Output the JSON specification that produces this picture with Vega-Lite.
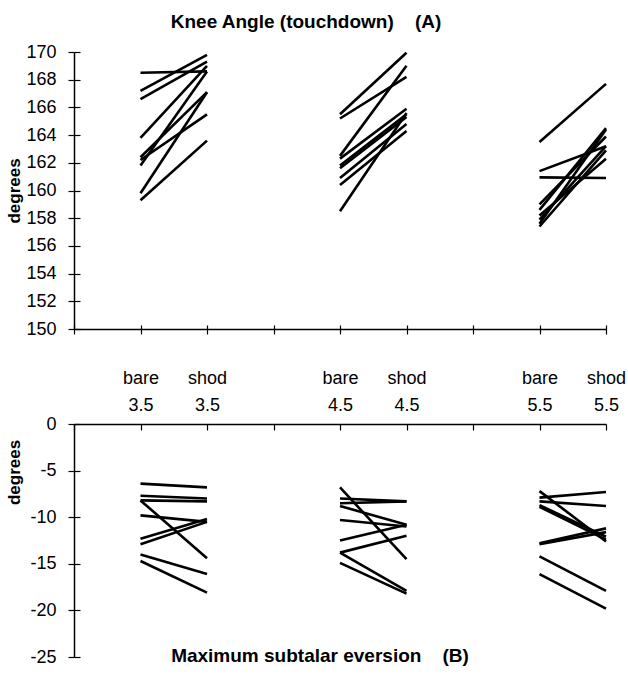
{
  "$schema": "https://vega.github.io/schema/vega-lite/v6.json",
  "padding": {"left": 5, "top": 13, "right": 0, "bottom": 0},
  "background": "white",
  "bounds": "flush",
  "spacing": 95,
  "config": {
    "font": "Liberation Sans",
    "view": {"stroke": null},
    "axis": {"domainColor": "black", "tickColor": "black", "labelColor": "black", "titleColor": "black", "labelFont": "Liberation Sans", "titleFont": "Liberation Sans", "labelFontSize": 18, "grid": false, "domainWidth": 1.5, "tickWidth": 1.2},
    "title": {"font": "Liberation Sans", "fontSize": 19, "fontWeight": "bold", "color": "black"}
  },
  "datasets": {
    "knee": [
      {"c": "bare 3.5", "id": "a1", "v": 168.5}, {"c": "shod 3.5", "id": "a1", "v": 168.6},
      {"c": "bare 3.5", "id": "a2", "v": 167.2}, {"c": "shod 3.5", "id": "a2", "v": 169.8},
      {"c": "bare 3.5", "id": "a3", "v": 166.6}, {"c": "shod 3.5", "id": "a3", "v": 169.3},
      {"c": "bare 3.5", "id": "a4", "v": 163.8}, {"c": "shod 3.5", "id": "a4", "v": 169.0},
      {"c": "bare 3.5", "id": "a5", "v": 162.4}, {"c": "shod 3.5", "id": "a5", "v": 167.1},
      {"c": "bare 3.5", "id": "a6", "v": 162.2}, {"c": "shod 3.5", "id": "a6", "v": 165.5},
      {"c": "bare 3.5", "id": "a7", "v": 161.8}, {"c": "shod 3.5", "id": "a7", "v": 168.6},
      {"c": "bare 3.5", "id": "a8", "v": 159.8}, {"c": "shod 3.5", "id": "a8", "v": 167.1},
      {"c": "bare 3.5", "id": "a9", "v": 159.3}, {"c": "shod 3.5", "id": "a9", "v": 163.6},
      {"c": "bare 4.5", "id": "b1", "v": 165.5}, {"c": "shod 4.5", "id": "b1", "v": 169.95},
      {"c": "bare 4.5", "id": "b2", "v": 165.2}, {"c": "shod 4.5", "id": "b2", "v": 168.2},
      {"c": "bare 4.5", "id": "b3", "v": 162.5}, {"c": "shod 4.5", "id": "b3", "v": 169.0},
      {"c": "bare 4.5", "id": "b4", "v": 162.3}, {"c": "shod 4.5", "id": "b4", "v": 165.9},
      {"c": "bare 4.5", "id": "b5", "v": 161.8}, {"c": "shod 4.5", "id": "b5", "v": 165.5},
      {"c": "bare 4.5", "id": "b6", "v": 161.6}, {"c": "shod 4.5", "id": "b6", "v": 165.3},
      {"c": "bare 4.5", "id": "b7", "v": 160.9}, {"c": "shod 4.5", "id": "b7", "v": 164.8},
      {"c": "bare 4.5", "id": "b8", "v": 160.4}, {"c": "shod 4.5", "id": "b8", "v": 164.3},
      {"c": "bare 4.5", "id": "b9", "v": 158.5}, {"c": "shod 4.5", "id": "b9", "v": 165.6},
      {"c": "bare 5.5", "id": "c1", "v": 163.5}, {"c": "shod 5.5", "id": "c1", "v": 167.7},
      {"c": "bare 5.5", "id": "c2", "v": 161.4}, {"c": "shod 5.5", "id": "c2", "v": 163.2},
      {"c": "bare 5.5", "id": "c3", "v": 160.95}, {"c": "shod 5.5", "id": "c3", "v": 160.9},
      {"c": "bare 5.5", "id": "c4", "v": 159.0}, {"c": "shod 5.5", "id": "c4", "v": 163.9},
      {"c": "bare 5.5", "id": "c5", "v": 158.6}, {"c": "shod 5.5", "id": "c5", "v": 164.5},
      {"c": "bare 5.5", "id": "c6", "v": 158.2}, {"c": "shod 5.5", "id": "c6", "v": 162.3},
      {"c": "bare 5.5", "id": "c7", "v": 157.9}, {"c": "shod 5.5", "id": "c7", "v": 163.2},
      {"c": "bare 5.5", "id": "c8", "v": 157.6}, {"c": "shod 5.5", "id": "c8", "v": 164.4},
      {"c": "bare 5.5", "id": "c9", "v": 157.4}, {"c": "shod 5.5", "id": "c9", "v": 162.9}
    ],
    "ever": [
      {"c": "bare 3.5", "id": "a1", "v": -6.4}, {"c": "shod 3.5", "id": "a1", "v": -6.8},
      {"c": "bare 3.5", "id": "a2", "v": -7.7}, {"c": "shod 3.5", "id": "a2", "v": -8.0},
      {"c": "bare 3.5", "id": "a3", "v": -8.2}, {"c": "shod 3.5", "id": "a3", "v": -8.3},
      {"c": "bare 3.5", "id": "a4", "v": -8.2}, {"c": "shod 3.5", "id": "a4", "v": -14.4},
      {"c": "bare 3.5", "id": "a5", "v": -9.8}, {"c": "shod 3.5", "id": "a5", "v": -10.5},
      {"c": "bare 3.5", "id": "a6", "v": -12.3}, {"c": "shod 3.5", "id": "a6", "v": -10.2},
      {"c": "bare 3.5", "id": "a7", "v": -12.9}, {"c": "shod 3.5", "id": "a7", "v": -10.5},
      {"c": "bare 3.5", "id": "a8", "v": -14.0}, {"c": "shod 3.5", "id": "a8", "v": -16.1},
      {"c": "bare 3.5", "id": "a9", "v": -14.7}, {"c": "shod 3.5", "id": "a9", "v": -18.1},
      {"c": "bare 4.5", "id": "b1", "v": -6.8}, {"c": "shod 4.5", "id": "b1", "v": -14.5},
      {"c": "bare 4.5", "id": "b2", "v": -8.0}, {"c": "shod 4.5", "id": "b2", "v": -8.3},
      {"c": "bare 4.5", "id": "b3", "v": -8.5}, {"c": "shod 4.5", "id": "b3", "v": -8.3},
      {"c": "bare 4.5", "id": "b4", "v": -8.8}, {"c": "shod 4.5", "id": "b4", "v": -10.8},
      {"c": "bare 4.5", "id": "b5", "v": -10.3}, {"c": "shod 4.5", "id": "b5", "v": -11.0},
      {"c": "bare 4.5", "id": "b6", "v": -12.5}, {"c": "shod 4.5", "id": "b6", "v": -10.8},
      {"c": "bare 4.5", "id": "b7", "v": -13.8}, {"c": "shod 4.5", "id": "b7", "v": -12.0},
      {"c": "bare 4.5", "id": "b8", "v": -13.8}, {"c": "shod 4.5", "id": "b8", "v": -17.9},
      {"c": "bare 4.5", "id": "b9", "v": -14.9}, {"c": "shod 4.5", "id": "b9", "v": -18.2},
      {"c": "bare 5.5", "id": "c1", "v": -7.2}, {"c": "shod 5.5", "id": "c1", "v": -12.6},
      {"c": "bare 5.5", "id": "c2", "v": -7.9}, {"c": "shod 5.5", "id": "c2", "v": -7.3},
      {"c": "bare 5.5", "id": "c3", "v": -8.3}, {"c": "shod 5.5", "id": "c3", "v": -8.8},
      {"c": "bare 5.5", "id": "c4", "v": -8.7}, {"c": "shod 5.5", "id": "c4", "v": -12.1},
      {"c": "bare 5.5", "id": "c5", "v": -8.9}, {"c": "shod 5.5", "id": "c5", "v": -12.4},
      {"c": "bare 5.5", "id": "c6", "v": -12.8}, {"c": "shod 5.5", "id": "c6", "v": -11.2},
      {"c": "bare 5.5", "id": "c7", "v": -12.9}, {"c": "shod 5.5", "id": "c7", "v": -11.6},
      {"c": "bare 5.5", "id": "c8", "v": -14.2}, {"c": "shod 5.5", "id": "c8", "v": -17.9},
      {"c": "bare 5.5", "id": "c9", "v": -16.1}, {"c": "shod 5.5", "id": "c9", "v": -19.8}
    ]
  },
  "vconcat": [
    {
      "width": 532,
      "height": 277,
      "title": {"text": "Knee Angle (touchdown)\u00a0\u00a0\u00a0\u00a0(A)", "anchor": "middle", "dx": -34, "offset": 2, "frame": "group", "baseline": "middle"},
      "data": {"name": "knee"},
      "layer": [
        {
          "mark": {"type": "line", "color": "black", "strokeWidth": 2.6},
          "encoding": {
            "x": {"field": "c", "type": "ordinal",
                  "scale": {"type": "point", "padding": 0, "domain": ["g0", "bare 3.5", "shod 3.5", "g1", "bare 4.5", "shod 4.5", "g2", "bare 5.5", "shod 5.5"]},
                  "axis": {"orient": "bottom", "labels": false, "title": null, "tickSize": 5}},
            "y": {"field": "v", "type": "quantitative",
                  "scale": {"domain": [150, 170], "nice": false, "zero": false},
                  "axis": {"values": [150, 152, 154, 156, 158, 160, 162, 164, 166, 168, 170], "title": "degrees", "titleFontSize": 17, "titleFontWeight": "bold", "titleX": -60, "titleBaseline": "middle", "tickSize": 6, "labelPadding": 12}},
            "detail": {"field": "id"}
          }
        },
        {
          "mark": {"type": "line", "color": "black", "strokeOpacity": 0},
          "encoding": {
            "x": {"field": "c", "type": "ordinal",
                  "axis": {"orient": "bottom", "labels": false, "domain": false, "title": null, "tickSize": -4}},
            "y": {"field": "v", "type": "quantitative",
                  "axis": {"orient": "left", "values": [150, 152, 154, 156, 158, 160, 162, 164, 166, 168, 170], "labels": false, "domain": false, "title": null, "tickSize": -6}},
            "detail": {"field": "id"}
          }
        }
      ],
      "resolve": {"axis": {"x": "independent", "y": "independent"}}
    },
    {
      "width": 532,
      "height": 233,
      "title": {"text": "Maximum subtalar eversion\u00a0\u00a0\u00a0\u00a0(B)", "orient": "bottom", "anchor": "middle", "dx": -20, "offset": -10, "frame": "group", "baseline": "middle"},
      "data": {"name": "ever"},
      "layer": [
        {
          "mark": {"type": "line", "color": "black", "strokeWidth": 2.6},
          "encoding": {
            "x": {"field": "c", "type": "ordinal",
                  "scale": {"type": "point", "padding": 0, "domain": ["g0", "bare 3.5", "shod 3.5", "g1", "bare 4.5", "shod 4.5", "g2", "bare 5.5", "shod 5.5"]},
                  "axis": {"orient": "top", "title": null, "tickSize": -6, "labelPadding": 43, "labelAngle": 0, "labelOverlap": false, "labelLineHeight": 27, "labelExpr": "length(datum.label) > 3 ? split(datum.label, ' ') : ''"}},
            "y": {"field": "v", "type": "quantitative",
                  "scale": {"domain": [-25, 0], "nice": false, "zero": false},
                  "axis": {"values": [-25, -20, -15, -10, -5, 0], "labelExpr": "'' + datum.value", "title": "degrees", "titleFontSize": 17, "titleFontWeight": "bold", "titleX": -60, "titleY": 48, "titleBaseline": "middle", "tickSize": 6, "labelPadding": 12}},
            "detail": {"field": "id"}
          }
        },
        {
          "mark": {"type": "line", "color": "black", "strokeOpacity": 0},
          "encoding": {
            "x": {"field": "c", "type": "ordinal"},
            "y": {"field": "v", "type": "quantitative",
                  "axis": {"orient": "left", "values": [-25, -20, -15, -10, -5, 0], "labels": false, "domain": false, "title": null, "tickSize": -6}},
            "detail": {"field": "id"}
          }
        }
      ],
      "resolve": {"axis": {"y": "independent"}}
    }
  ]
}
